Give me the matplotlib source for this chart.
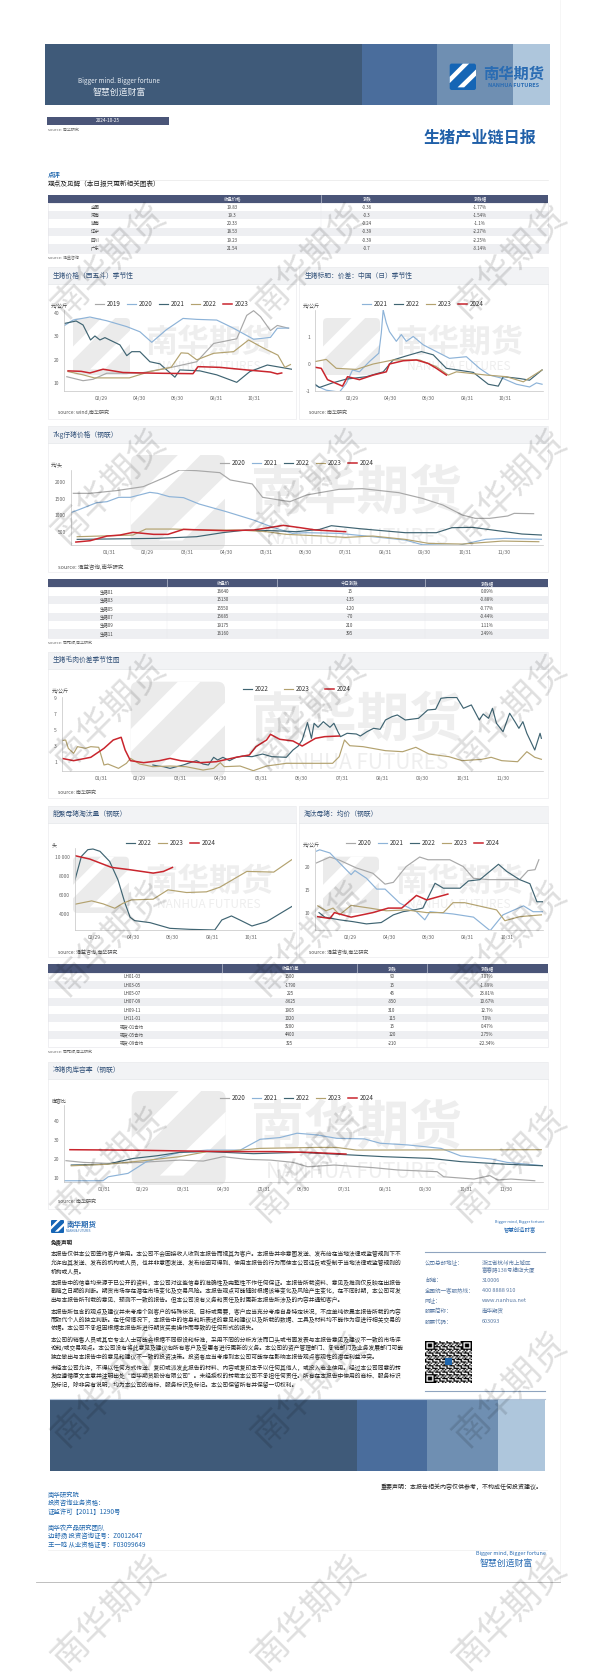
#!/usr/bin/env python
import matplotlib
matplotlib.use("Agg")
import matplotlib.pyplot as plt
import numpy as np
from matplotlib.patches import Rectangle, FancyBboxPatch, Polygon

plt.rcParams['font.family'] = ['Noto Sans CJK SC', 'DejaVu Sans']
plt.rcParams['axes.unicode_minus'] = False

W, H = 595, 1680

# --- chart data: (day of year, value) ---
c1_2019_d = [5, 31, 47, 69, 122, 176, 213, 240, 277, 293, 304, 315, 331, 342, 360]
c1_2019_v = [12.8, 11.1, 11.7, 14.3, 14.3, 17, 19.2, 27, 29, 39, 41, 38.5, 32.5, 34.7, 33.5]
c1_2020_d = [2, 15, 42, 69, 101, 122, 141, 164, 191, 213, 245, 272, 304, 331, 342, 360]
c1_2020_v = [34.8, 37, 38.3, 36.7, 34.2, 32, 27.5, 32.8, 37.7, 37.3, 37, 33.5, 28.8, 29.6, 33.5, 33.6]
c1_2021_d = [2, 20, 31, 43, 50, 58, 66, 90, 101, 109, 122, 138, 154, 178, 186, 218, 245, 277, 298, 326, 365]
c1_2021_v = [35.6, 36.6, 34.9, 28.5, 30.2, 28.5, 29.5, 26.4, 21.8, 23.5, 23.5, 19.2, 18.3, 12.6, 15.7, 15.3, 13.6, 10.4, 15, 17.8, 16]
c1_2022_d = [7, 31, 49, 105, 138, 172, 188, 199, 213, 240, 272, 296, 320, 343, 354, 363]
c1_2022_v = [15, 13.6, 12.3, 12.3, 15, 16.8, 23, 22.8, 20, 22.8, 23.5, 28.5, 25, 22, 16.8, 18]
c1_2023_d = [7, 28, 42, 63, 95, 148, 207, 215, 250, 293, 331, 342, 349]
c1_2023_v = [15.3, 15.1, 14.4, 16, 14.6, 14.3, 14.1, 17.1, 16.8, 15.7, 14.8, 14, 14.4]

c2_2021_d = [1, 19, 40, 51, 61, 72, 88, 103, 107, 110, 115, 120, 131, 139, 147, 158, 174, 195, 216, 243, 264, 280, 302, 323, 344, 355, 364]
c2_2021_v = [-.79, -.97, -1.04, -.72, -.22, -.29, .09, .4, 1.15, 2.0, 1.52, 1.2, .84, 1.09, .84, 1.02, .71, .46, .21, .27, -.16, -.41, -.54, -.75, -.85, -.7, -.75]
c2_2022_d = [1, 8, 29, 51, 83, 110, 126, 147, 171, 190, 211, 254, 278, 294, 302, 329, 344, 364]
c2_2022_v = [-.75, -.87, -.7, -.56, -.47, -.29, .15, .3, .46, .34, -.16, -.31, -.75, -.82, -.47, -.54, -.6, -.22]
c2_2023_d = [1, 19, 35, 67, 94, 126, 168, 195, 214, 227, 275, 307, 334, 364]
c2_2023_v = [.09, .17, -.16, -.2, 0, .15, .15, -.1, -.41, -.29, -.41, -.47, -.66, -.22]
c2_2024_d = [1, 11, 21, 45, 53, 72, 94, 115, 120, 142, 163, 182, 195, 211]
c2_2024_v = [-.12, -.16, -.58, -.82, -.47, -.58, -.41, -.29, 0, .12, .15, .02, -.16, -.41]

c3_2020_d = [3, 16, 36, 57, 75, 85, 98, 116, 124, 141, 149, 170, 183, 208, 226, 254, 272, 288, 303, 313, 324, 338, 343, 358]
c3_2020_v = [1667, 1667, 1747, 1868, 2170, 2370, 2350, 2290, 2070, 1950, 1546, 1415, 1617, 1788, 1808, 1687, 1516, 1315, 1013, 912, 912, 983, 1063, 1053]
c3_2021_d = [1, 8, 21, 29, 38, 47, 62, 68, 77, 88, 100, 121, 142, 157, 172, 183, 208, 234, 259, 272, 300, 321, 336, 364]
c3_2021_v = [1083, 1184, 1385, 1415, 1546, 1546, 1697, 1667, 1566, 1536, 1345, 1114, 862, 641, 460, 480, 460, 359, 259, 118, 98, 280, 309, 280]
c3_2022_d = [6, 67, 98, 118, 136, 157, 175, 193, 202, 224, 259, 283, 295, 311, 336, 349, 364]
c3_2022_v = [279, 309, 359, 480, 560, 540, 510, 580, 691, 600, 480, 480, 631, 641, 510, 440, 410]
c3_2023_d = [6, 49, 59, 80, 106, 131, 152, 167, 190, 213, 234, 259, 277, 303, 334, 362]
c3_2023_v = [359, 409, 590, 590, 560, 560, 510, 430, 389, 339, 379, 279, 158, 138, 228, 208]
c3_2024_d = [5, 16, 29, 39, 49, 65, 76, 88, 121, 142, 152, 165, 178, 190, 213]
c3_2024_v = [198, 238, 379, 409, 490, 430, 430, 580, 540, 560, 621, 701, 631, 560, 510]

c4_2022_d = [70, 74, 78, 83, 88, 93, 98, 103, 108, 112, 116, 119, 123, 128, 133, 138, 145, 153, 160, 171, 176, 180, 183, 187, 190, 192, 195, 199, 204, 207, 210, 212, 217, 224, 227, 232, 237, 242, 246, 251, 255, 261, 271, 278, 284, 288, 293, 300, 305, 311, 317, 320, 324, 327, 330, 335, 340, 344, 347, 350, 353, 359, 363, 364]
c4_2022_v = [.67, .54, .46, .25, .46, .67, .96, 1.21, .79, .67, 1.63, 1.29, 1.63, 1.21, 1.63, 1.79, 1.71, 2.04, 1.71, 1.63, 2.54, 3.04, 3.79, 5.96, 4.0, 5.88, 5.38, 6.08, 5.38, 5.88, 4.83, 4.21, 4.63, 4.54, 4.29, 4.83, 5.25, 5.13, 6.29, 6.71, 6.92, 6.29, 6.5, 7.54, 7.63, 9, 9.1, 9.1, 7.75, 8.17, 6.29, 7.04, 6.5, 7.75, 5.88, 4.83, 7.13, 6.08, 5.25, 6.08, 4.63, 2.54, 4.63, 4]
c4_2023_d = [1, 4, 6, 10, 13, 19, 23, 29, 33, 36, 44, 50, 53, 60, 70, 83, 95, 108, 116, 121, 124, 136, 146, 156, 171, 186, 206, 211, 215, 219, 229, 246, 259, 269, 279, 294, 304, 319, 326, 334, 346, 353, 359, 364]
c4_2023_v = [3.71, 3.79, 2.75, 2.13, 2.96, 2.75, 2.96, 2.88, .67, .79, .25, .88, 1.5, .79, .46, .54, .46, .04, .25, .96, .46, .54, -.04, .54, .88, .88, .88, 1.71, 3.79, 3.08, 2.96, 2.46, 2.33, 2.88, 2.04, 1.71, 1.21, 1.38, 1.63, 1.21, 1.08, 2.33, 1.63, 1.38]
c4_2024_d = [1, 10, 23, 33, 40, 46, 49, 53, 63, 75, 83, 91, 106, 118, 133, 143, 148, 156, 159, 166, 176, 183, 193, 200, 211]
c4_2024_v = [1.5, 1.21, 1.63, 2.75, 3.79, 4.13, 2.54, 1.21, .96, 1.21, 1.5, 1.21, .96, 1.08, 1.63, 1.92, 2.96, 3.79, 4.5, 3.88, 3.67, 3.04, 4, 4.21, 4.29]

c5_2022_d = [30, 40, 50, 58, 69, 84, 97, 108, 116, 123, 147, 178, 209, 248, 259, 274, 287, 306, 329, 368]
c5_2022_v = [7615, 10072, 10774, 10845, 10599, 9546, 7615, 5158, 3684, 3333, 3122, 2525, 2420, 2350, 3403, 3824, 3403, 2771, 3228, 4807]
c5_2023_d = [30, 56, 74, 92, 105, 118, 152, 175, 204, 235, 256, 298, 340, 368]
c5_2023_v = [5053, 5404, 5088, 4632, 5158, 5509, 5580, 6562, 6281, 6352, 6843, 8493, 8423, 9721]
c5_2024_d = [30, 53, 87, 116, 152, 168, 182]
c5_2024_v = [10143, 9792, 8914, 8668, 8317, 8493, 8914]

c6_2020_d = [8, 29, 44, 70, 96, 115, 128, 148, 169, 182, 216, 237, 253, 276, 325, 338, 349, 355]
c6_2020_v = [21, 22.3, 21.6, 19.9, 18.7, 16.3, 16.7, 20.2, 22.3, 21.7, 21.7, 20.2, 17.6, 17.3, 17.3, 19.3, 19.5, 21.7]
c6_2021_d = [8, 13, 29, 44, 62, 68, 86, 102, 115, 138, 164, 177, 185, 221, 253, 279, 299, 331, 346, 361]
c6_2021_v = [23.6, 23.9, 23.2, 21, 18.4, 19.3, 17.6, 15.2, 15.2, 12.1, 10.2, 8.4, 10.2, 9.7, 9, 6, 9.5, 11.5, 10.2, 10.2]
c6_2022_d = [12, 21, 44, 65, 86, 109, 128, 143, 164, 174, 193, 206, 232, 245, 263, 292, 305, 325, 341, 352, 361]
c6_2022_v = [10, 9, 8.4, 8, 7.5, 7.8, 9.5, 10.2, 10.7, 11, 16.5, 15.4, 15.4, 17, 17.3, 20.7, 19.1, 17.3, 16.4, 12.4, 12.4]
c6_2023_d = [10, 23, 34, 44, 62, 91, 117, 148, 180, 206, 221, 239, 289, 302, 325, 359]
c6_2023_v = [11.5, 10.4, 11, 9.5, 11.6, 11, 10.4, 10.6, 10, 10, 12.2, 12.2, 10.6, 8.2, 9.1, 9.5]
c6_2024_d = [10, 29, 36, 62, 96, 120, 141, 164, 180, 213]
c6_2024_v = [9.1, 8.7, 10, 9, 10, 11, 11, 13.8, 12.8, 14.1]

c7_2020_d = [2, 15, 33, 58, 88, 106, 121, 139, 157, 174, 185, 205, 235, 253, 283, 288, 311, 323, 329, 339, 357]
c7_2020_v = [19, 18.1, 17.6, 18.1, 19.3, 18.8, 21.1, 19.7, 19.3, 18.1, 15.8, 16.7, 15.3, 14.1, 13.2, 10.5, 9.3, 11.1, 8.8, 9.3, 8.4]
c7_2021_d = [1, 30, 34, 49, 63, 76, 88, 109, 134, 149, 164, 177, 192, 207, 228, 240, 261, 286, 301, 324, 336, 364]
c7_2021_v = [8.4, 8.4, 10.5, 12.3, 18.5, 21.1, 23.4, 24.6, 24.6, 30.3, 31.2, 33.5, 32.6, 30.8, 30.5, 28.2, 27.3, 25.5, 21.5, 19.9, 18.1, 16.3]
c7_2022_d = [6, 33, 53, 71, 88, 109, 144, 179, 210, 243, 278, 301, 336, 364]
c7_2022_v = [16.7, 17.1, 20.2, 21.6, 23.4, 23.8, 22.7, 23.4, 22.3, 21.1, 20.2, 18.5, 17.1, 16.3]
c7_2023_d = [6, 33, 58, 88, 109, 126, 149, 192, 207, 222, 362]
c7_2023_v = [16.3, 17.1, 18.8, 21.1, 23.8, 24.1, 25.5, 26, 26, 24.6, 24.8]
c7_2024_d = [5, 58, 121, 159, 185, 214]
c7_2024_v = [24.8, 24.5, 23.8, 23.8, 23.4, 22.5]

# --- tables ---
t1_head = ['', '收盘价格', '涨跌', '涨跌幅']
t1_rows = [['全国', '19.83', '-0.36', '-1.77%'], ['河南', '19.3', '-0.3', '-1.54%'],
           ['湖南', '20.33', '-0.24', '-1.1%'], ['辽宁', '18.53', '-0.39', '-2.27%'],
           ['四川', '19.23', '-0.39', '-2.25%'], ['广东', '21.54', '-0.7', '-3.14%']]
t2_head = ['', '收盘价', '今日涨跌', '涨跌幅']
t2_rows = [['生猪01', '16640', '15', '0.09%'], ['生猪03', '15130', '-135', '-0.88%'],
           ['生猪05', '15550', '-120', '-0.77%'], ['生猪07', '15685', '-70', '-0.44%'],
           ['生猪09', '19175', '210', '1.11%'], ['生猪11', '16160', '395', '2.49%']]
t3_head = ['', '收盘价差', '涨跌', '涨跌幅']
t3_rows = [['LH01-03', '1500', '90', '7.07%'], ['LH03-05', '-1790', '15', '-1.89%'],
           ['LH05-07', '225', '45', '23.81%'], ['LH07-09', '-3625', '-350', '10.67%'],
           ['LH09-11', '1905', '310', '12.7%'], ['LH11-01', '1020', '115', '7.0%'],
           ['现货-01合约', '3200', '15', '0.47%'], ['现货-05合约', '4400', '120', '2.75%'],
           ['现货-09合约', '325', '-210', '-22.34%']]

disclaimer = [
    "本报告仅供本公司签约客户使用。本公司不会因接收人收到本报告而视其为客户。本报告并非意图发送、发布给在当地法律或监管规则下不",
    "允许向其发送、发布的机构或人员，也并非意图发送、发布给因可得到、使用本报告的行为而使本公司违反或受制于当地法律或监管规则的",
    "机构或人员。",
    "本报告中的信息均来源于已公开的资料，本公司对这些信息的准确性及完整性不作任何保证。本报告所载资料、意见及推测仅反映在出报告",
    "截稿之日期的判断。期货市场存在潜在市场变化及交易风险。本报告观点可能随时根据该等变化及风险产生变化，在不同时期，本公司可发",
    "出与本报告所刊载的意见、预测不一致的报告。但本公司没有义务和责任及时更新本报告所涉及的内容并通知客户。",
    "本报告所包含的观点及建议并未考虑个别客户的特殊状况、目标或需要，客户应当充分考虑自身特定状况，不应单纯依靠本报告所载的内容",
    "而取代个人的独立判断。在任何情况下，本报告中的信息和所表述的意见和建议以及所载的数据、工具及材料均不能作为您进行相关交易的",
    "依据。本公司不承担因根据本报告所进行期货买卖操作而导致的任何形式的损失。",
    "本公司的销售人员或其它专业人士可能会根据不同假设和标准，采用不同的分析方法而口头或书面发表与本报告意见及建议不一致的市场评",
    "论和/或交易观点。本公司没有将此意见及建议向所有客户及受惠者进行更新的义务。本公司的资产管理部门、承销部门及业务发展部门可能",
    "独立做出与本报告中的意见和建议不一致的投资决策。投资者应当考虑到本公司可能存在影响本报告观点客观性的潜在利益冲突。",
    "未经本公司允许，不得以任何方式传送、复印或派发此报告的材料、内容或复印本予以任何其他人，或投入商业使用。经过本公司同意的转",
    "发应遵循原文本意并注明出处“南华期货股份有限公司”。未经授权的转载本公司不承担任何责任。所有在本报告中使用的商标、服务标识",
    "及标记，除非另有说明，均为本公司的商标、服务标识及标记。本公司保留所有并保留一切权利。",
]
disclaimer_y = [1254.3, 1262.8, 1271.3, 1283, 1291, 1299.8, 1311.6, 1319.8, 1328.3, 1339.4, 1347.9, 1356.4, 1368.2, 1376.4, 1384.9]

contact = [('公司总部地址：', '浙江省杭州市上城区', 1262.5), ('', '富春路138号横店大厦', 1269.3),
           ('邮编：', '310006', 1280), ('全国统一客服热线：', '400 8888 910', 1290),
           ('网址：', 'www.nanhua.net', 1300.3), ('股票简称：', '南华期货', 1311), ('股票代码：', '603093', 1321.3)]

team = [('南华研究院', 1495), ('投资咨询业务资格：', 1503), ('证监许可【2011】1290号', 1512),
        ('南华农产品研究团队', 1528), ('边舒扬 投资咨询证号：Z0012647', 1536), ('王一鸣 从业资格证号：F03099649', 1545)]

tick_labels = ['01/31', '02/29', '03/31', '04/30', '05/31', '06/30', '07/31', '08/31', '09/30', '10/31', '11/30']
tick_days = [31, 60, 91, 121, 152, 182, 213, 244, 274, 305, 335]

GRAY, LBLUE, DARK, TAN, RED = '#a8a8a8', '#8db3d8', '#3f6472', '#b3a26f', '#c9252d'
BLUE = '#1f66ad'

fig = plt.figure(figsize=(W / 100, H / 100), dpi=100)
page = fig.add_axes([0, 0, 1, 1], zorder=0)
page.set_xlim(0, W)
page.set_ylim(H, 0)
page.axis('off')


def txt(x, y, s, size=4.0, color='#333333', ha='left', **kw):
    page.text(x, y, s, fontsize=size, color=color, ha=ha, va='center', **kw)


def rect(x0, y0, x1, y1, color, **kw):
    page.add_patch(Rectangle((x0, y0), x1 - x0, y1 - y0, fc=color, ec='none', **kw))


def logo(x0, y0, x1, y1, color):
    # rounded square with two white diagonal stripes
    s = x1 - x0
    h = y1 - y0
    r = s * 0.08
    page.add_patch(FancyBboxPatch((x0 + r, y0 + r), s - 2 * r, h - 2 * r,
                                  boxstyle='round,pad=%f,rounding_size=%f' % (r, r), fc=color, ec='none'))
    for pts in ([(0, .5), (.5, .0), (.74, .0), (0, .74)],
                [(.3, .9), (1, .22), (1, .46), (.55, .9)]):
        page.add_patch(Polygon([(x0 + a * s, y0 + b * h) for a, b in pts], fc='white', ec='none'))


def banner(x, y0, y1):
    cols = ['#3f5a79', '#4a6d9c', '#6f8fb2', '#aec6dc']
    for i, c in enumerate(cols):
        rect(x[i], y0, x[i + 1], y1, c)


def panel(x0, y0, x1, y1, head_y, title):
    rect(x0, y0, x1, y1, 'white')
    rect(x0, y0, x1, head_y, '#f2f3f5')
    page.plot([x0, x1], [head_y, head_y], color='#e2e4e8', lw=0.5)
    page.add_patch(Rectangle((x0, y0), x1 - x0, y1 - y0, fc='none', ec='#ececee', lw=0.5))
    txt(x0 + 5.5, (y0 + head_y) / 2, title, size=4.9, color='#34537a')


def table(x0, x1, y0, head_y, bottom, edges, centers, head, rows):
    rect(x0, y0, x1, head_y, '#4a5578')
    h = (bottom - head_y) / len(rows)
    for i, r in enumerate(rows):
        yy = head_y + i * h
        if i % 2:
            rect(x0, yy, x1, yy + h, '#eeeff2')
        for c, s in zip(centers, r):
            txt(c, yy + h / 2, s, size=3.2, color='#444444', ha='center')
    for c, s in zip(centers, head):
        txt(c, (y0 + head_y) / 2, s, size=3.2, color='white', ha='center')
    for e in edges:
        page.plot([e, e], [y0, head_y], color='#d8dbe4', lw=0.4)
        page.plot([e, e], [head_y, bottom], color='#e8e8ec', lw=0.3)
    page.add_patch(Rectangle((x0, head_y), x1 - x0, bottom - head_y, fc='none', ec='#e4e4e8', lw=0.4))


def water(cx, xl, yc, yn, cw, nw):
    # pale logo + company name behind a chart
    txt(cx, yc, '南华期货', size=cw, color='#eeeeee', ha='center', fontweight='bold')
    txt(cx, yn, 'NANHUA FUTURES', size=nw, color='#eeeeee', ha='center')
    logo(xl[0], xl[1], xl[2], xl[3], '#ebebeb')


def chart(box, xlim, ylim, yticks, ylabels, unit, unit_pos, series, ticks, leg_x, leg_y, legsize=4.5, colsp=1.0):
    l, t, r, b = box
    ax = fig.add_axes([l / W, 1 - b / H, (r - l) / W, (b - t) / H], zorder=2)
    ax.patch.set_alpha(0)
    for d, v, c, name in series:
        ax.plot(d, v, color=c, lw=1.1 if c == RED else 0.85, label=name, solid_joinstyle='round')
    ax.set_xlim(*xlim)
    ax.set_ylim(*ylim)
    ax.set_yticks(yticks)
    ax.set_yticklabels(ylabels)
    ax.set_xticks([tick_days[i] for i in ticks])
    ax.set_xticklabels([tick_labels[i] for i in ticks])
    ax.tick_params(labelsize=3.6, length=0, pad=3.5, colors='#666666')
    for s in ('top', 'right'):
        ax.spines[s].set_visible(False)
    for s in ('left', 'bottom'):
        ax.spines[s].set_color('#c4c4c4')
        ax.spines[s].set_linewidth(0.5)
    ax.legend(loc='center', bbox_to_anchor=(leg_x / W, 1 - leg_y / H), bbox_transform=fig.transFigure,
              ncol=len(series), frameon=False, fontsize=legsize, handlelength=1.4, handletextpad=0.5,
              columnspacing=colsp, borderpad=0, labelcolor='#333333')
    txt(unit_pos[0], unit_pos[1], unit, size=3.6, color='#444444')
    return ax


# --- top of page ---
page.plot([560, 560], [0, 1581], color='#f3f3f3', lw=0.5)
banner([45.2, 361.7, 437, 513, 550], 44.3, 105.4)
logo(449.7, 63.6, 476, 90, '#1565b5')
txt(513.5, 74.3, '南华期货', size=11, color='#2a6cb3', ha='center', fontweight='bold')
txt(513.5, 85.7, 'NANHUA FUTURES', size=4.0, color='#2a6cb3', ha='center', fontweight='bold')
txt(119, 81.4, 'Bigger mind. Bigger fortune', size=4.6, color='#e6ecf3', ha='center')
txt(119, 92, '智慧创造财富', size=6.4, color='#e6ecf3', ha='center')

rect(47.4, 117, 168.5, 124.8, '#4a5578')
txt(108, 121, '2024-10-25', size=3.4, color='white', ha='center')
txt(47.5, 130, 'source: 南华研究', size=2.9, color='#666666')
txt(480, 137.8, '生猪产业链日报', size=11.6, color='#1f5fa8', ha='center', fontweight='bold')

txt(47.5, 175, '点评', size=4.6, color=BLUE, fontweight='bold')
page.plot([47.5, 547.5], [179.6, 179.6], color='#e8e8e8', lw=0.5)
txt(47.5, 184.4, '观点及见解（本日报只更新相关图表）', size=4.8, color='#222222')

table(47.5, 547.5, 195, 202.9, 252.5, [321.4], [95, 232, 367, 480], t1_head, t1_rows)
txt(47.5, 257.9, 'source: 涌益咨询', size=2.9, color='#666666')

# --- charts ---
panel(47.5, 267, 296, 419, 284, '生猪价格（西五斗）季节性')
panel(298.7, 267, 547.5, 419, 284, '生猪标肥：价差：中国（日）季节性')
water(209, (73, 318, 130, 375), 343, 366, 23, 8.5)
water(459, (323, 318, 380, 375), 343, 366, 23, 8.5)
chart((64.3, 310, 291.7, 391), (1, 365), (6.7, 41.3), [10, 20, 30, 40], ['10', '20', '30', '40'], '元/公斤', (51, 306),
      [(c1_2019_d, c1_2019_v, GRAY, '2019'), (c1_2020_d, c1_2020_v, LBLUE, '2020'),
       (c1_2021_d, c1_2021_v, DARK, '2021'), (c1_2022_d, c1_2022_v, TAN, '2022'),
       (c1_2023_d, c1_2023_v, RED, '2023')], [1, 3, 5, 7, 9], 172, 304)
chart((315, 310, 542.7, 391), (1, 365), (-1, 2), [-1, 0, 1], ['-1', '0', '1'], '元/公斤', (302.5, 306),
      [(c2_2021_d, c2_2021_v, LBLUE, '2021'), (c2_2022_d, c2_2022_v, DARK, '2022'),
       (c2_2023_d, c2_2023_v, TAN, '2023'), (c2_2024_d, c2_2024_v, RED, '2024')], [1, 3, 5, 7, 9], 423, 304)
txt(58, 412.7, 'source: wind,南华研究', size=3.6, color='#555555')
txt(309, 412.7, 'source: 南华研究', size=3.6, color='#555555')

panel(47.5, 426, 547.5, 572, 443, '7kg仔猪价格（钢联）')
water(356.7, (130.7, 455, 225, 550), 493, 538, 38, 15)
chart((70.7, 470, 542.7, 545.3), (1, 365), (100, 2370), [500, 1000, 1500, 2000], ['500', '1000', '1500', '2000'], '元/头', (51, 465.7),
      [(c3_2020_d, c3_2020_v, GRAY, '2020'), (c3_2021_d, c3_2021_v, LBLUE, '2021'),
       (c3_2022_d, c3_2022_v, DARK, '2022'), (c3_2023_d, c3_2023_v, TAN, '2023'),
       (c3_2024_d, c3_2024_v, RED, '2024')], list(range(11)), 297, 462.7)
txt(58, 566.7, 'source: 涌益咨询,南华研究', size=4.0, color='#555555')

table(47.5, 547.5, 579.3, 587.3, 637.7, [167, 277, 425], [107, 223, 350, 487], t2_head, t2_rows)
txt(47.5, 643, 'source: 同花顺,南华研究', size=2.9, color='#666666')

panel(47.5, 651.7, 547.5, 798, 669, '生猪毛肉价差季节性图')
water(356.7, (130.7, 681.7, 225, 776.7), 720, 763, 38, 15)
chart((61.7, 696.7, 542.7, 771), (1, 365), (-0.08, 9.2), [1, 3, 5, 7, 9], ['1', '3', '5', '7', '9'], '元/公斤', (51.5, 691.7),
      [(c4_2022_d, c4_2022_v, DARK, '2022'), (c4_2023_d, c4_2023_v, TAN, '2023'),
       (c4_2024_d, c4_2024_v, RED, '2024')], list(range(11)), 297, 689, colsp=2.4)
txt(58, 792.5, 'source: 南华研究', size=3.6, color='#555555')

panel(47.5, 806, 296, 956.7, 822.7, '能繁母猪淘汰量（钢联）')
panel(298.7, 806, 547.5, 956.7, 822.7, '淘汰母猪：均价（钢联）')
water(209, (73, 856.7, 129, 913), 881.7, 904, 23, 8.5)
water(459, (323, 856.7, 379, 913), 881.7, 904, 23, 8.5)
chart((75, 848, 291.7, 930), (30, 368), (2350, 10950), [4000, 6000, 8000, 10000], ['4000', '6000', '8000', '10 000'], '头', (51.5, 845),
      [(c5_2022_d, c5_2022_v, DARK, '2022'), (c5_2023_d, c5_2023_v, TAN, '2023'),
       (c5_2024_d, c5_2024_v, RED, '2024')], [1, 3, 5, 7, 9], 171, 842.7)
chart((315, 848, 542.7, 930), (5.7, 361), (6.15, 24.3), [10, 15, 20], ['10', '15', '20'], '元/公斤', (302.5, 845),
      [(c6_2020_d, c6_2020_v, GRAY, '2020'), (c6_2021_d, c6_2021_v, LBLUE, '2021'),
       (c6_2022_d, c6_2022_v, DARK, '2022'), (c6_2023_d, c6_2023_v, TAN, '2023'),
       (c6_2024_d, c6_2024_v, RED, '2024')], [1, 3, 5, 7, 9], 422.7, 842.7)
txt(58, 951.7, 'source: 涌益咨询,南华研究', size=3.6, color='#555555')
txt(309, 951.7, 'source: 涌益咨询,南华研究', size=3.6, color='#555555')

table(47.5, 547.5, 964.3, 972.7, 1047.3, [221.7, 357, 427], [131.7, 290, 392, 487], t3_head, t3_rows)
txt(47.5, 1052, 'source: 同花顺,南华研究', size=2.9, color='#666666')

panel(47.5, 1061.7, 547.5, 1209, 1079, '冻猪肉库容率（钢联）')
water(356.7, (131.7, 1091, 225.7, 1185), 1128, 1171.7, 38, 15)
chart((64, 1105, 542.7, 1181.7), (0.5, 363), (7.9, 48.4), [10, 20, 30, 40], ['10', '20', '30', '40'], '库容比', (51.5, 1101.7),
      [(c7_2020_d, c7_2020_v, GRAY, '2020'), (c7_2021_d, c7_2021_v, LBLUE, '2021'),
       (c7_2022_d, c7_2022_v, DARK, '2022'), (c7_2023_d, c7_2023_v, TAN, '2023'),
       (c7_2024_d, c7_2024_v, RED, '2024')], list(range(11)), 297, 1098.3)
txt(58, 1201.5, 'source: 南华研究', size=3.6, color='#555555')

# --- disclaimer block ---
logo(51, 1220, 64, 1233, '#1565b5')
txt(66.5, 1224.5, '南华期货', size=5.4, color='#2a6cb3', fontweight='bold')
txt(66.5, 1230.5, 'NANHUA FUTURES', size=2.0, color='#2a6cb3')
txt(544.5, 1222, 'Bigger mind, Bigger fortune', size=2.7, color='#2a6cb3', ha='right')
txt(536, 1229, '智慧创造财富', size=3.9, color='#2a6cb3', ha='right')
txt(51, 1242.7, '免责声明', size=4.0, color='#222222', fontweight='bold')
for s, y in zip(disclaimer, disclaimer_y):
    txt(50.5, y, s, size=4.15, color='#222222')

page.plot([425, 544.5], [1251.7, 1251.7], color='#8fa4bf', lw=0.8)
page.plot([425, 544.5], [1390.7, 1390.7], color='#8fa4bf', lw=0.8)
for a, b, y in contact:
    if a:
        txt(425, y, a, size=4.0, color='#5b7ba5')
    txt(482, y, b, size=4.0, color='#5b7ba5')

# QR block
n = 33
qr = ((np.arange(n)[:, None] ** 2 + 3 * np.arange(n)[None, :] ** 2 + np.arange(n)[:, None] * np.arange(n)[None, :]) % 5 < 2).astype(float)
for oy, ox in ((0, 0), (0, n - 7), (n - 7, 0)):
    qr[oy:oy + 7, ox:ox + 7] = 1
    qr[oy + 1:oy + 6, ox + 1:ox + 6] = 0
    qr[oy + 2:oy + 5, ox + 2:ox + 5] = 1
page.imshow(1 - qr, cmap='gray', extent=(425, 472, 1382.7, 1341), interpolation='bilinear', aspect='auto', zorder=2)
page.set_xlim(0, W)
page.set_ylim(H, 0)
rect(445, 1358, 452, 1365, '#1f66ad', zorder=3)

# --- footer ---
page.plot([50.3, 544.7], [1399, 1399], color='#b4c5da', lw=0.8)
banner([50.3, 356.7, 427.3, 497.7, 544.7], 1399.5, 1471)
txt(543, 1486.7, '重要声明：本报告相关内容仅供参考，不构成任何投资建议。', size=4.3, color='#222222', ha='right')
for s, y in team:
    txt(47.7, y, s, size=4.6, color=BLUE)
page.plot([47.5, 547], [1550, 1550], color='#efefef', lw=0.5)
txt(546, 1553, 'Bigger mind, Bigger fortune', size=3.9, color='#2a6cb3', ha='right')
txt(506.7, 1563.3, '智慧创造财富', size=6.4, color='#2a6cb3', ha='center')
page.plot([36, 560], [1581.7, 1581.7], color='#b4b4b4', lw=0.6)

# --- diagonal watermark over everything ---
over = fig.add_axes([0, 0, 1, 1], zorder=5)
over.set_xlim(0, W)
over.set_ylim(H, 0)
over.axis('off')
for cy in [261, 487, 713, 939, 1165, 1390, 1613]:
    for cx in [110, 310, 510.5]:
        over.text(cx, cy, '南华期货', fontsize=26, rotation=45, color='black', alpha=0.13,
                  ha='center', va='center', rotation_mode='anchor')

fig.savefig('out.png', dpi=100)
